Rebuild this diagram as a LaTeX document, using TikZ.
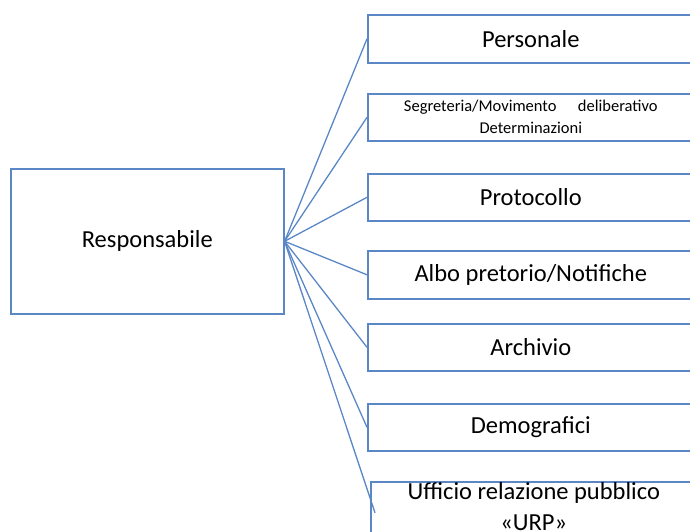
\documentclass[tikz,border=0pt]{standalone}
\usepackage{fontspec}
\setmainfont{Carlito}
\definecolor{officeblue}{HTML}{5B87C6}
\tikzset{ufficio/.style={draw=officeblue, line width=1.6pt, anchor=north west, inner sep=0pt, minimum width=326pt, align=center, font=\fontsize{24.5}{31}\selectfont},
         capo/.style={ufficio, minimum width=273pt, minimum height=145pt},
         link/.style={officeblue, line width=1.3pt}}

\begin{document}
\begin{tikzpicture}[x=1pt,y=-1pt]
  \useasboundingbox (0,0) rectangle (690,532);
  \clip (0,0) rectangle (690,532);
  \node[capo] (resp) at (10,168) {Responsabile};
  \node[ufficio, minimum height=48pt] (pers) at (367,14) {Personale};
  \node[ufficio, minimum height=47pt, font=\fontsize{16.5}{22}\selectfont] (segr) at (367,93) {Segreteria/Movimento\hspace{1.3em}deliberativo\\Determinazioni};
  \node[ufficio, minimum height=47pt] (prot) at (367,173) {Protocollo};
  \node[ufficio, minimum height=48pt] (albo) at (367,250) {Albo pretorio/Notifiche};
  \node[ufficio, minimum height=47pt] (arch) at (367,323) {Archivio};
  \node[ufficio, minimum height=47pt] (demo) at (367,403) {Demografici};
  \node[ufficio, minimum height=62pt, text depth=13pt] (urp) at (370,481) {Ufficio relazione pubblico\\«URP»};
  % collegamenti
  \draw[link] (resp.east) -- (pers.west);
  \draw[link] (resp.east) -- (segr.west);
  \draw[link] (resp.east) -- (prot.west);
  \draw[link] (resp.east) -- (albo.west);
  \draw[link] (resp.east) -- (arch.west);
  \draw[link] (resp.east) -- (demo.west);
  \draw[link] (resp.east) -- ([xshift=5pt]urp.west);
\end{tikzpicture}
\end{document}
